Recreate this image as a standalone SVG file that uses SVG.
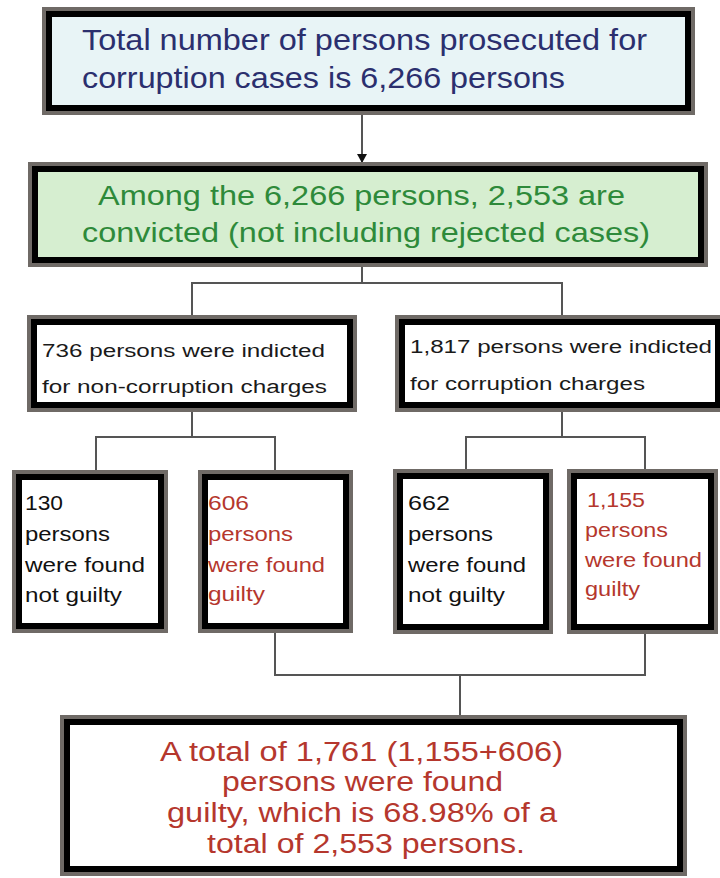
<svg xmlns="http://www.w3.org/2000/svg" width="720" height="878" viewBox="0 0 720 878">
<style>
.o{fill:none;stroke:#6f6a66;stroke-width:4}
.i{fill:none;stroke:#000;stroke-width:6}
.c{fill:none;stroke:#555;stroke-width:2}
text{font-family:"Liberation Sans",Arial,sans-serif}
.t1{font-size:30px;fill:#2b2f6e}
.t2{font-size:28px;fill:#2e8a3a}
.t3{font-size:18px;fill:#1a1a1a}
.t4{font-size:21px;fill:#111}
.t5{font-size:21px;fill:#b5372d}
.t6{font-size:27px;fill:#b5372d}
</style>
<defs>
<marker id="ah" markerWidth="10" markerHeight="10" refX="9" refY="5" orient="auto" markerUnits="userSpaceOnUse">
<path d="M0,0 L9,5 L0,10 Z" fill="#111"/>
</marker>
</defs>
<g id="connectors">
<line class="c" x1="362" y1="115" x2="362" y2="163" marker-end="url(#ah)"/>
<polyline class="c" points="362,267 362,283"/>
<polyline class="c" points="192,316 192,283 562,283 562,316"/>
<polyline class="c" points="192,412 192,437"/>
<polyline class="c" points="96,471 96,437 275,437 275,471"/>
<polyline class="c" points="562,412 562,437"/>
<polyline class="c" points="466,470 466,437 645,437 645,470"/>
<polyline class="c" points="275,633 275,675 645,675 645,634"/>
<polyline class="c" points="460,675 460,716"/>
</g>
<g id="n_total">
<rect x="44" y="9" width="649" height="104" fill="#e8f4f6"/>
<rect class="o" x="44" y="9" width="649" height="104"/>
<rect class="i" x="49" y="14" width="639" height="94"/>
<text class="t1" x="82" y="50" textLength="565" lengthAdjust="spacingAndGlyphs">Total number of persons prosecuted for</text>
<text class="t1" x="82" y="88" textLength="483" lengthAdjust="spacingAndGlyphs">corruption cases is 6,266 persons</text>
</g>
<g id="n_convicted">
<rect x="30" y="164" width="676" height="101" fill="#d6eed0"/>
<rect class="o" x="30" y="164" width="676" height="101"/>
<rect class="i" x="35" y="169" width="666" height="91"/>
<text class="t2" x="98" y="205" textLength="527" lengthAdjust="spacingAndGlyphs">Among the 6,266 persons, 2,553 are</text>
<text class="t2" x="82" y="242" textLength="568" lengthAdjust="spacingAndGlyphs">convicted (not including rejected cases)</text>
</g>
<g id="n_noncorr">
<rect x="29" y="317" width="326" height="93" fill="#fff"/>
<rect class="o" x="29" y="317" width="326" height="93"/>
<rect class="i" x="34" y="322" width="316" height="83"/>
<text class="t3" x="42" y="357" textLength="283" lengthAdjust="spacingAndGlyphs">736 persons were indicted</text>
<text class="t3" x="42" y="393" textLength="285" lengthAdjust="spacingAndGlyphs">for non-corruption charges</text>
</g>
<g id="n_corr">
<rect x="397" y="317" width="326" height="93" fill="#fff"/>
<rect class="o" x="397" y="317" width="326" height="93"/>
<rect class="i" x="402" y="322" width="316" height="83"/>
<text class="t3" x="410" y="353" textLength="302" lengthAdjust="spacingAndGlyphs">1,817 persons were indicted</text>
<text class="t3" x="410" y="390" textLength="235" lengthAdjust="spacingAndGlyphs">for corruption charges</text>
</g>
<g id="n_130">
<rect x="14" y="472" width="152" height="159" fill="#fff"/>
<rect class="o" x="14" y="472" width="152" height="159"/>
<rect class="i" x="19" y="477" width="142" height="149"/>
<text class="t4" x="25" y="510" textLength="38" lengthAdjust="spacingAndGlyphs">130</text>
<text class="t4" x="25" y="541" textLength="85" lengthAdjust="spacingAndGlyphs">persons</text>
<text class="t4" x="25" y="572" textLength="120" lengthAdjust="spacingAndGlyphs">were found</text>
<text class="t4" x="25" y="602" textLength="97" lengthAdjust="spacingAndGlyphs">not guilty</text>
</g>
<g id="n_606">
<rect x="200" y="472" width="151" height="159" fill="#fff"/>
<rect class="o" x="200" y="472" width="151" height="159"/>
<rect class="i" x="205" y="477" width="141" height="149"/>
<text class="t5" x="208" y="510" textLength="41" lengthAdjust="spacingAndGlyphs">606</text>
<text class="t5" x="208" y="541" textLength="85" lengthAdjust="spacingAndGlyphs">persons</text>
<text class="t5" x="208" y="572" textLength="117" lengthAdjust="spacingAndGlyphs">were found</text>
<text class="t5" x="208" y="601" textLength="57" lengthAdjust="spacingAndGlyphs">guilty</text>
</g>
<g id="n_662">
<rect x="395" y="471" width="156" height="161" fill="#fff"/>
<rect class="o" x="395" y="471" width="156" height="161"/>
<rect class="i" x="400" y="476" width="146" height="151"/>
<text class="t4" x="408" y="510" textLength="42" lengthAdjust="spacingAndGlyphs">662</text>
<text class="t4" x="408" y="541" textLength="85" lengthAdjust="spacingAndGlyphs">persons</text>
<text class="t4" x="408" y="572" textLength="118" lengthAdjust="spacingAndGlyphs">were found</text>
<text class="t4" x="408" y="602" textLength="97" lengthAdjust="spacingAndGlyphs">not guilty</text>
</g>
<g id="n_1155">
<rect x="569" y="471" width="147" height="161" fill="#fff"/>
<rect class="o" x="569" y="471" width="147" height="161"/>
<rect class="i" x="574" y="476" width="137" height="151"/>
<text class="t5" x="587" y="507" textLength="58" lengthAdjust="spacingAndGlyphs">1,155</text>
<text class="t5" x="585" y="537" textLength="83" lengthAdjust="spacingAndGlyphs">persons</text>
<text class="t5" x="585" y="567" textLength="117" lengthAdjust="spacingAndGlyphs">were found</text>
<text class="t5" x="585" y="596" textLength="55" lengthAdjust="spacingAndGlyphs">guilty</text>
</g>
<g id="n_total_guilty">
<rect x="62" y="717" width="623" height="157" fill="#fff"/>
<rect class="o" x="62" y="717" width="623" height="157"/>
<rect class="i" x="67" y="722" width="613" height="147"/>
<text class="t6" x="160" y="761" textLength="403" lengthAdjust="spacingAndGlyphs">A total of 1,761 (1,155+606)</text>
<text class="t6" x="222" y="791" textLength="281" lengthAdjust="spacingAndGlyphs">persons were found</text>
<text class="t6" x="167" y="822" textLength="390" lengthAdjust="spacingAndGlyphs">guilty, which is 68.98% of a</text>
<text class="t6" x="207" y="853" textLength="318" lengthAdjust="spacingAndGlyphs">total of 2,553 persons.</text>
</g>
</svg>
